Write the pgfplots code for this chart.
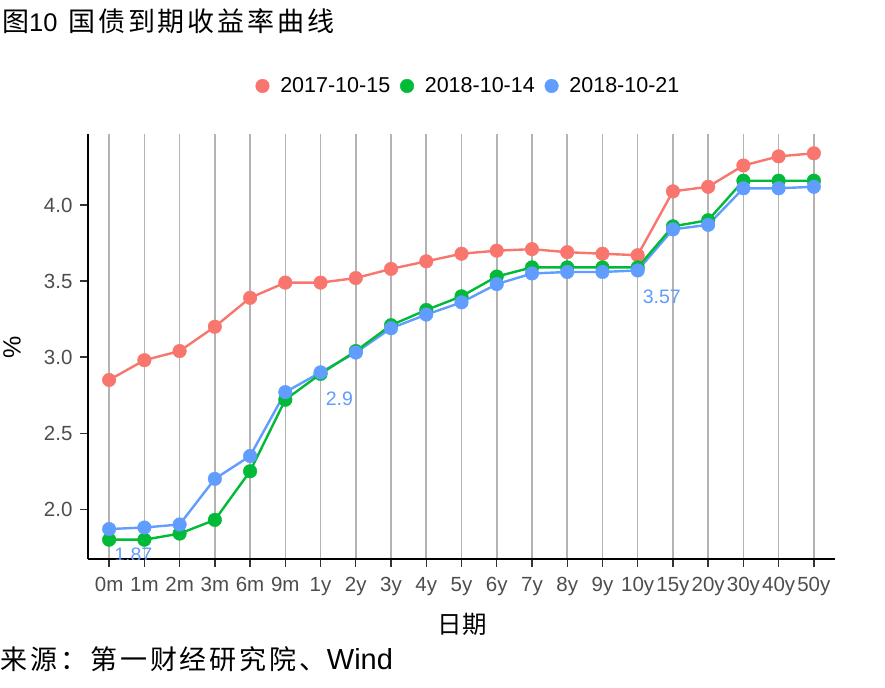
\documentclass[border=0pt]{standalone}
\usepackage{pgfplots}
\usepackage{pgfplotstable}
\pgfplotsset{compat=1.18}
\usepackage{fontspec}
\setmainfont{Liberation Sans}
\newfontfamily\cjk{Noto Sans CJK SC}
\newfontfamily\cjkwide{Noto Sans CJK SC}[LetterSpace=11]
\definecolor{cR}{HTML}{F8766D}
\definecolor{cG}{HTML}{00BA38}
\definecolor{cB}{HTML}{619CFF}
\definecolor{gridc}{HTML}{B3B3B3}
\definecolor{tickc}{HTML}{4D4D4D}
\definecolor{tickm}{HTML}{333333}
\pgfplotsset{dotlegend/.style={legend image code/.code={\draw[##1, only marks] plot coordinates {(0.2cm,0cm)};}}}

\pgfplotstableread{
x r g b
0 2.85 1.80 1.87
1 2.98 1.80 1.88
2 3.04 1.84 1.90
3 3.20 1.93 2.20
4 3.39 2.25 2.35
5 3.49 2.72 2.77
6 3.49 2.89 2.90
7 3.52 3.04 3.03
8 3.58 3.21 3.19
9 3.63 3.31 3.28
10 3.68 3.40 3.36
11 3.70 3.53 3.48
12 3.71 3.59 3.55
13 3.69 3.59 3.56
14 3.68 3.59 3.56
15 3.67 3.59 3.57
16 4.09 3.86 3.84
17 4.12 3.90 3.87
18 4.26 4.16 4.11
19 4.32 4.16 4.11
20 4.34 4.16 4.12
}\datatab

\begin{document}
\begin{tikzpicture}
\path[use as bounding box] (0bp,0bp) rectangle (885bp,-688bp);
\begin{axis}[
  at={(88bp,-559bp)}, anchor=south west,
  scale only axis, width=747bp, height=425bp,
  xmin=-0.6, xmax=20.6, ymin=1.673, ymax=4.467,
  axis x line*=bottom, axis y line*=left,
  axis line style={-, line width=1.4bp, black},
  xtick={0,...,20},
  xticklabels={0m,1m,2m,3m,6m,9m,1y,2y,3y,4y,5y,6y,7y,8y,9y,10y,15y,20y,30y,40y,50y},
  ytick={2,2.5,3,3.5,4},
  /pgf/number format/assume math mode=true,
  tick align=outside, xtick pos=left, ytick pos=left,
  major tick length=8bp,
  tick style={line width=1.4bp, color=tickm},
  xmajorgrids, major x grid style={color=gridc, line width=1.6bp},
  ticklabel style={font=\fontsize{20.5bp}{24bp}\selectfont, text=tickc},
  xticklabel style={yshift=-7bp},
  yticklabel style={xshift=-4bp, /pgf/number format/.cd, fixed, fixed zerofill, precision=1},
  dotlegend,
  legend style={at={(axis description cs:0.5094,1.113)}, anchor=center, draw=none, fill=none,
    legend columns=3, font=\fontsize{21.5bp}{24bp}\selectfont,
    /tikz/every odd column/.append style={column sep=9bp},
    /tikz/every even column/.append style={column sep=8bp}},
  legend cell align=left,
]
\addplot[only marks, mark=*, mark size=6.8bp, color=cR] table[x=x,y=r]{\datatab};
\addlegendentry{2017-10-15}
\addplot[only marks, mark=*, mark size=6.8bp, color=cG] table[x=x,y=g]{\datatab};
\addlegendentry{2018-10-14}
\addplot[only marks, mark=*, mark size=6.8bp, color=cB] table[x=x,y=b]{\datatab};
\addlegendentry{2018-10-21}
\addplot[forget plot, no marks, color=cR, line width=2.4bp] table[x=x,y=r]{\datatab};
\addplot[forget plot, no marks, color=cB, line width=2.4bp] table[x=x,y=b]{\datatab};
\addplot[forget plot, no marks, color=cG, line width=2.4bp] table[x=x,y=g]{\datatab};
\node[anchor=west, inner sep=0pt, xshift=5bp, yshift=-26bp, text=cB, font=\fontsize{19.5bp}{22bp}\selectfont] at (axis cs:0,1.87) {1.87};
\node[anchor=west, inner sep=0pt, xshift=5bp, yshift=-26bp, text=cB, font=\fontsize{19.5bp}{22bp}\selectfont] at (axis cs:6,2.9) {2.9};
\node[anchor=west, inner sep=0pt, xshift=5bp, yshift=-26bp, text=cB, font=\fontsize{19.5bp}{22bp}\selectfont] at (axis cs:15,3.57) {3.57};
\end{axis}
\node[anchor=west, inner sep=0pt] at (2bp,-21.5bp) {\fontsize{27bp}{30bp}\selectfont{\cjkwide 图}{\fontsize{25.5bp}{30bp}\selectfont 10}\hspace{3bp} {\cjkwide 国债到期收益率曲线}};
\node[anchor=west, inner sep=0pt] at (0bp,-659bp) {\fontsize{27bp}{30bp}\selectfont{\cjkwide 来源：第一财经研究院、}{\fontsize{29bp}{30bp}\selectfont Wind}};
\node[inner sep=0pt] at (462bp,-624bp) {\fontsize{24.5bp}{26bp}\selectfont\cjk 日期};
\node[rotate=90, inner sep=0pt] at (12bp,-347bp) {\fontsize{25bp}{26bp}\selectfont \%};
\end{tikzpicture}
\end{document}
